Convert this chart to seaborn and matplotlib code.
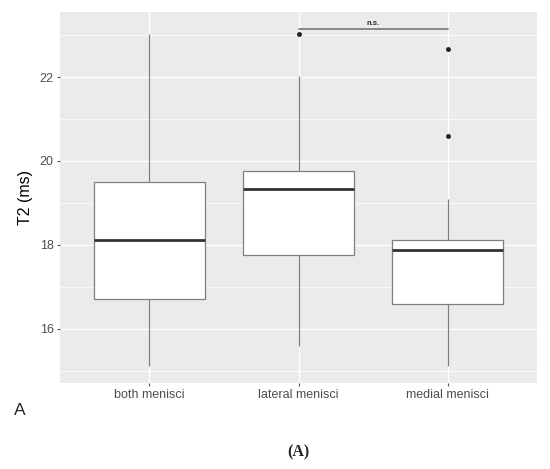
import pandas as pd
import matplotlib.pyplot as plt
import seaborn as sns
from matplotlib.ticker import MultipleLocator

# T2 values per group
groups = ["both menisci", "lateral menisci", "medial menisci"]
both = [15.12, 16.2, 16.71, 17.4, 18.12, 18.8, 19.5, 21.0, 23.02]
lateral = [15.6, 17.0, 17.76, 18.6, 19.33, 19.5, 19.76, 22.02, 23.02]
medial = [15.12, 15.8, 16.3, 16.6, 17.1, 17.6, 17.88, 17.95, 18.05, 18.12, 19.1, 20.6, 22.67]

df = pd.DataFrame({
    "group": ["both menisci"] * len(both) + ["lateral menisci"] * len(lateral) + ["medial menisci"] * len(medial),
    "T2": both + lateral + medial,
})

sns.set_theme(style="darkgrid", rc={
    "axes.facecolor": "#EBEBEB",
    "grid.color": "white",
})
plt.rcParams["font.family"] = ["Liberation Sans", "DejaVu Sans"]

fig = plt.figure(figsize=(5.5, 4.69), dpi=100)
ax = fig.add_axes([60 / 550, 1 - 383 / 469, 477 / 550, 371 / 469])

sns.boxplot(data=df, x="group", y="T2", order=groups, ax=ax, width=0.75,
            color="white", linecolor="#7f7f7f", linewidth=0.9, showcaps=False,
            flierprops={"marker": "o", "markersize": 2.5, "markerfacecolor": "#222222",
                        "markeredgecolor": "#222222"},
            medianprops={"color": "#333333", "linewidth": 2.0},
            boxprops={"facecolor": "white", "edgecolor": "#7f7f7f"})

ax.set_ylim(14.71, 23.55)
ax.set_xlim(-0.6, 2.6)
ax.yaxis.set_major_locator(MultipleLocator(2))
ax.yaxis.set_minor_locator(MultipleLocator(1))
ax.grid(True, which="major", color="white", linewidth=1.0)
ax.grid(True, which="minor", axis="y", color="white", linewidth=0.5)
ax.set_axisbelow(True)
for s in ax.spines.values():
    s.set_visible(False)

ax.tick_params(axis="both", which="major", length=2.5, width=0.8, color="#555555",
               labelcolor="#4D4D4D", labelsize=9, pad=2, left=True, bottom=True)
ax.tick_params(axis="y", which="minor", length=0)
ax.set_xlabel("")
ax.set_ylabel("T2 (ms)", fontsize=11.5, color="black", labelpad=5)

# significance bracket
y_bar = 23.14
ax.plot([1, 2], [y_bar, y_bar], color="#7f7f7f", linewidth=1.3)
ax.text(1.5, y_bar + 0.06, "n.s.", ha="center", va="bottom", fontsize=5.5, fontweight="bold")

fig.text(20 / 550, 1 - 410 / 469, "A", fontsize=12.5, ha="center", va="center")
fig.text(298 / 550, 1 - 452 / 469, "(A)", fontsize=11.5, ha="center", va="center",
         fontweight="bold", family=["Liberation Serif", "DejaVu Serif"])

fig.savefig("out.png", dpi=100, facecolor="white")
